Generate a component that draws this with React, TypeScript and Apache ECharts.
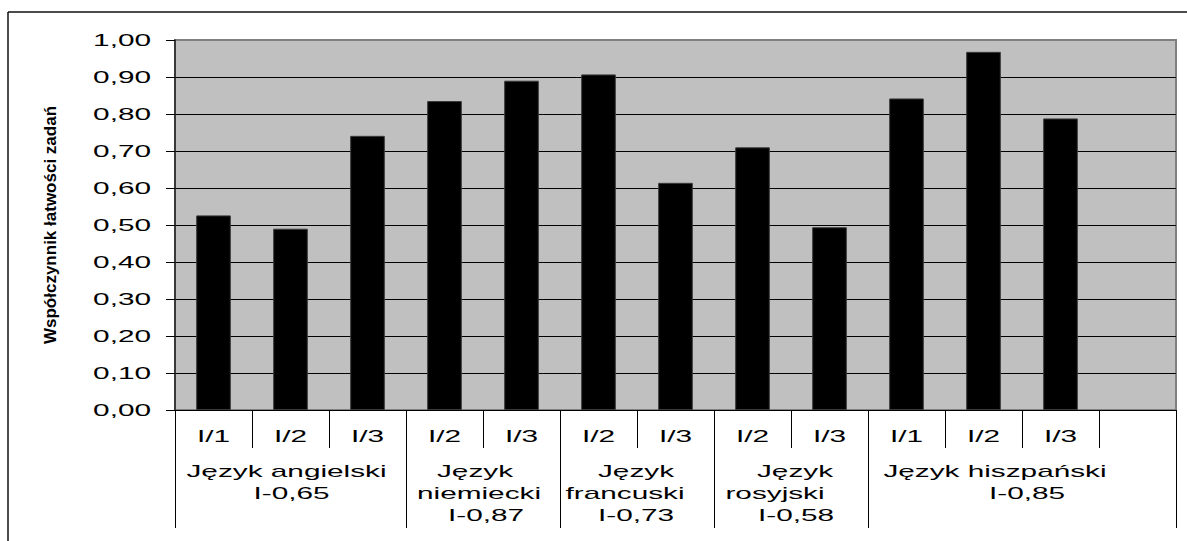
import React, { useEffect, useRef } from 'react';
import * as echarts from 'echarts';

// ---- data ----
const subLabels = ['I/1', 'I/2', 'I/3', 'I/2', 'I/3', 'I/2', 'I/3', 'I/2', 'I/3', 'I/1', 'I/2', 'I/3', ''];
const values: (number | null)[] = [0.526, 0.49, 0.741, 0.835, 0.89, 0.907, 0.614, 0.71, 0.494, 0.842, 0.968, 0.788, null];
const groupNames = [
  'Język angielski\nI-0,65',
  'Język\nniemiecki\nI-0,87',
  'Język\nfrancuski\nI-0,73',
  'Język\nrosyjski\nI-0,58',
  'Język hiszpański\nI-0,85',
];
const groupSizes = [3, 2, 2, 2, 4];
const yMin = 0;
const yMax = 1;
const yStep = 0.1;
const yTitle = 'Współczynnik łatwości zadań';

// ---- style ----
const FONT = "'Liberation Sans', Arial, sans-serif";
const STRETCH = 1.75;
// horizontal shift (px) of each line of the group labels, as wrapped in the original
const groupLineShift = [
  [-4, 1],
  [-8, -4, 3],
  [-1, -12, -1],
  [4, -16, 5],
  [-27, 5],
];

export default function App() {
  const ref = useRef<HTMLDivElement>(null);

  useEffect(() => {
    const el = ref.current!;
    const chart = echarts.init(el, null, { renderer: 'svg' });

    const n = subLabels.length;
    const groupAxisLabels: string[] = new Array(n * 2 + 1).fill('');
    const groupAxisIds: string[] = groupAxisLabels.map((_, i) => 'g' + i);
    const boundaryIdx = new Set<number>();
    const rich: Record<string, any> = {};
    let s = 0;
    groupNames.forEach((name, g) => {
      const size = groupSizes[g];
      boundaryIdx.add(2 * s);
      const lines = name.split('\n');
      groupAxisLabels[2 * s + size] = lines
        .map((ln, j) => {
          const key = `s${g}_${j}`;
          const d = (groupLineShift[g] && groupLineShift[g][j]) || 0;
          rich[key] = {
            fontSize: 17,
            lineHeight: 22,
            fontFamily: FONT,
            color: '#000',
            align: 'center',
            padding: [0, d < 0 ? -2 * d : 0, 0, d > 0 ? 2 * d : 0],
          };
          return `{${key}|${ln}}`;
        })
        .join('\n');
      s += size;
    });
    boundaryIdx.add(2 * s);

    chart.setOption({
      animation: false,
      textStyle: { fontFamily: FONT },
      grid: {
        left: 175,
        right: 11,
        top: 40,
        bottom: 131,
        show: true,
        backgroundColor: '#C0C0C0',
        borderColor: '#808080',
        borderWidth: 2,
      },
      graphic: [
        { type: 'line', shape: { x1: 8, y1: 12, x2: 1187, y2: 12 }, style: { stroke: '#111', lineWidth: 1.5 } },
        { type: 'line', shape: { x1: 8, y1: 12, x2: 8, y2: 541 }, style: { stroke: '#111', lineWidth: 1.5 } },
      ],
      xAxis: [
        {
          type: 'category',
          data: subLabels,
          boundaryGap: true,
          position: 'bottom',
          axisLine: { show: true, lineStyle: { color: '#000', width: 1 } },
          axisTick: { show: true, interval: 0, length: 38, lineStyle: { color: '#000', width: 1 } },
          axisLabel: { interval: 0, margin: 15, fontSize: 17, lineHeight: 22, color: '#000', fontFamily: FONT },
          splitLine: { show: false },
        },
        {
          type: 'category',
          data: groupAxisIds,
          boundaryGap: false,
          position: 'bottom',
          offset: 0,
          axisLine: { show: false },
          axisTick: {
            show: true,
            interval: (i: number) => boundaryIdx.has(i),
            length: 118,
            lineStyle: { color: '#000', width: 1 },
          },
          axisLabel: {
            interval: (i: number) => groupAxisLabels[i] !== '',
            formatter: (_v: string, i: number) => groupAxisLabels[i],
            margin: 50,
            fontSize: 17,
            lineHeight: 22,
            color: '#000',
            fontFamily: FONT,
            rich,
          },
          splitLine: { show: false },
        },
      ],
      yAxis: {
        type: 'value',
        min: yMin,
        max: yMax,
        interval: yStep,
        name: yTitle,
        nameLocation: 'middle',
        nameGap: 116,
        nameTextStyle: { fontFamily: FONT, fontSize: 17, fontWeight: 'bold', color: '#000' },
        axisLine: { show: true, lineStyle: { color: '#222', width: 1.5 } },
        axisTick: { show: true, inside: false, length: 9, lineStyle: { color: '#000', width: 1 } },
        axisLabel: {
          margin: 24,
          fontSize: 17,
          color: '#000',
          fontFamily: FONT,
          formatter: (v: number) => v.toFixed(2).replace('.', ','),
        },
        splitLine: { show: true, showMaxLine: false, lineStyle: { color: '#000', width: 1 } },
      },
      series: [
        {
          type: 'bar',
          xAxisIndex: 0,
          data: values,
          barWidth: '45%',
          itemStyle: { color: '#000', borderColor: '#3a3a3a', borderWidth: 1 },
        },
      ],
    });

    const stretch = () => {
      el.querySelectorAll('text').forEach((t: any) => {
        if (t.getAttribute('data-str')) return;
        const fw = getComputedStyle(t).fontWeight;
        if (fw === 'bold' || Number(fw) >= 600) return;
        const L = t.getComputedTextLength ? t.getComputedTextLength() : 0;
        if (!L) return;
        t.setAttribute('textLength', String(L * STRETCH));
        t.setAttribute('lengthAdjust', 'spacingAndGlyphs');
        t.setAttribute('data-str', '1');
      });
    };
    stretch();
    chart.on('finished', stretch);
    const raf = requestAnimationFrame(stretch);
    const tm = setTimeout(stretch, 50);

    return () => {
      cancelAnimationFrame(raf);
      clearTimeout(tm);
      chart.dispose();
    };
  }, []);

  return (
    <div
      ref={ref}
      style={{ position: 'absolute', left: 0, top: 0, width: 1187, height: 541, background: '#fff' }}
    />
  );
}
